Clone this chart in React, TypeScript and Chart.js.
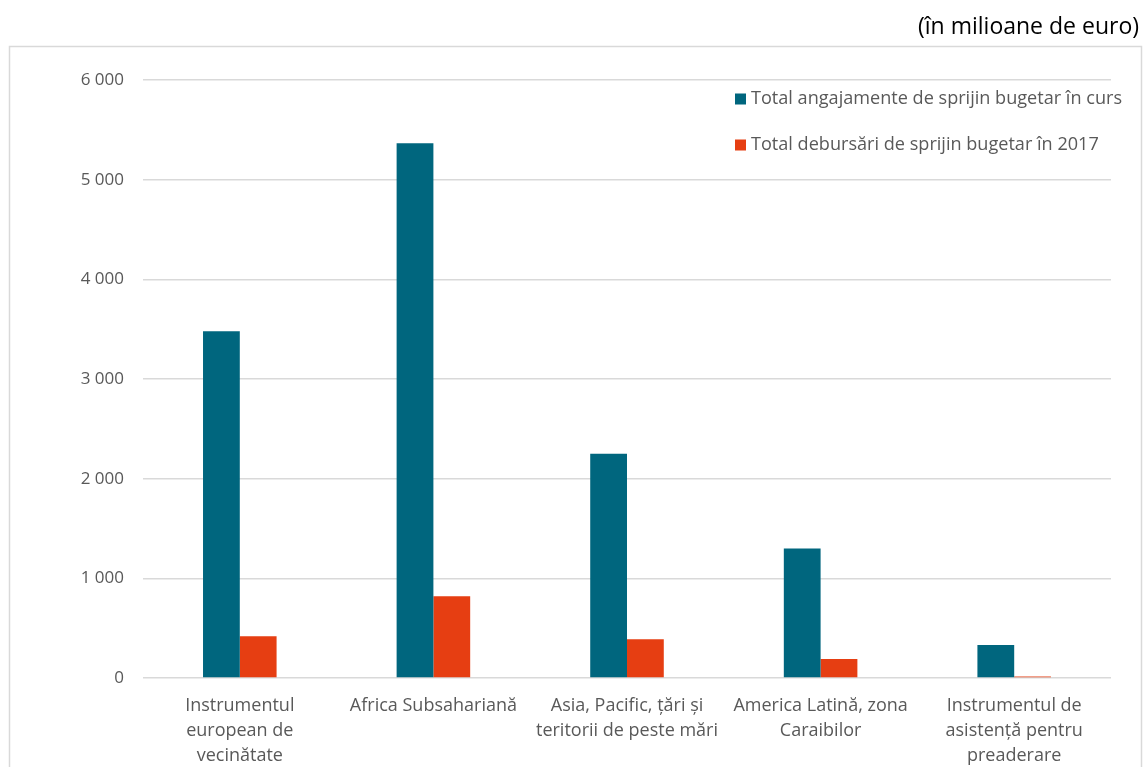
import React, { useEffect, useRef } from "react";
import { Chart, registerables } from "chart.js";

Chart.register(...registerables);

const categories: string[][] = [
  ["Instrumentul", "european de", "vecinătate"],
  ["Africa Subsahariană"],
  ["Asia, Pacific, țări și", "teritorii de peste mări"],
  ["America Latină, zona", "Caraibilor"],
  ["Instrumentul de", "asistență pentru", "preaderare"],
];

const seriesNames = [
  "Total angajamente de sprijin bugetar în curs",
  "Total debursări de sprijin bugetar în 2017",
];

const commitments = [3480, 5365, 2250, 1300, 330];
const disbursements = [420, 820, 390, 190, 15];

const yTicks = [0, 1000, 2000, 3000, 4000, 5000, 6000];
const unitLabel = "(în milioane de euro)";

const TEAL = "#00667E";
const ORANGE = "#E63E12";
const FONT = "'Open Sans', Lato, sans-serif";

const fmt = (v: number) => String(v).replace(/\B(?=(\d{3})+(?!\d))/g, " ");

const framePlugin = {
  id: "frame",
  beforeDraw(chart: any) {
    const ctx = chart.ctx;
    ctx.save();
    ctx.fillStyle = "#ffffff";
    ctx.fillRect(0, 0, chart.width, chart.height);
    ctx.strokeStyle = "#d9d9d9";
    ctx.lineWidth = 1.5;
    ctx.strokeRect(9.5, 46.5, 1132, 800);
    ctx.fillStyle = "#000000";
    ctx.font = `23px ${FONT}`;
    ctx.textAlign = "right";
    ctx.textBaseline = "alphabetic";
    ctx.fillText(unitLabel, 1139, 34);
    ctx.restore();
  },
  afterDraw(chart: any) {
    const ctx = chart.ctx;
    ctx.save();
    ctx.font = `18.1px ${FONT}`;
    ctx.textAlign = "left";
    ctx.textBaseline = "middle";
    chart.data.datasets.forEach((ds: any, i: number) => {
      const y = 99 + i * 46;
      ctx.fillStyle = ds.backgroundColor;
      ctx.fillRect(735, y - 5.5, 11, 11);
      ctx.fillStyle = "#595959";
      ctx.fillText(ds.label, 751, y);
    });
    ctx.restore();
  },
};

export default function App() {
  const ref = useRef<HTMLCanvasElement>(null);
  useEffect(() => {
    if (!ref.current) return;
    const chart = new Chart(ref.current, {
      type: "bar",
      data: {
        labels: categories,
        datasets: [
          {
            label: seriesNames[0],
            data: commitments,
            backgroundColor: TEAL,
            categoryPercentage: 0.38,
            barPercentage: 1,
          },
          {
            label: seriesNames[1],
            data: disbursements,
            backgroundColor: ORANGE,
            categoryPercentage: 0.38,
            barPercentage: 1,
          },
        ],
      },
      options: {
        animation: false,
        responsive: false,
        layout: { padding: { left: 10, right: 34, top: 80, bottom: 0 } },
        plugins: {
          legend: { display: false },
          tooltip: { enabled: false },
          title: { display: false },
        },
        scales: {
          x: {
            grid: { display: false, drawTicks: false },
            border: { display: false },
            ticks: {
              color: "#595959",
              font: { family: FONT, size: 18, lineHeight: "25px" as any },
              padding: 15,
              maxRotation: 0,
              autoSkip: false,
            },
            afterFit(scale: any) {
              scale.height = 89;
            },
          },
          y: {
            min: 0,
            max: 6000,
            afterBuildTicks(scale: any) {
              scale.ticks = yTicks.map((v) => ({ value: v }));
            },
            grid: { color: "#d9d9d9", lineWidth: 1.5, drawTicks: false },
            border: { display: false },
            ticks: {
              color: "#595959",
              font: { family: FONT, size: 17 },
              padding: 19,
              callback: (v: any) => fmt(Number(v)),
            },
            afterFit(scale: any) {
              scale.width = 133;
            },
          },
        },
      },
      plugins: [framePlugin],
    });
    return () => chart.destroy();
  }, []);
  return (
    <div style={{ position: "fixed", left: 0, top: 0, width: 1145, height: 767, background: "#fff" }}>
      <canvas ref={ref} width={1145} height={767} style={{ width: 1145, height: 767, display: "block" }} />
    </div>
  );
}
